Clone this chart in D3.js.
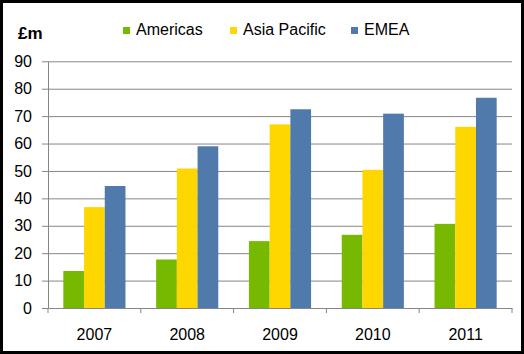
<!DOCTYPE html>
<html>
<head>
<meta charset="utf-8">
<style>
  body { margin: 0; background: #fff; }
  svg { display: block; font-family: "Liberation Sans", Arial, sans-serif; }
</style>
</head>
<body>
<svg id="chart" width="524" height="354"></svg>
<script src="https://d3js.org/d3.v7.min.js"></script>
<script>
  // data
  const years = ['2007', '2008', '2009', '2010', '2011']
  const regions = ['Americas', 'Asia Pacific', 'EMEA']
  const americas = [13.5, 17.7, 24.4, 26.7, 30.7]
  const asiaPacific = [36.8, 50.9, 67.0, 50.4, 66.1]
  const emea = [44.5, 59.0, 72.5, 70.9, 76.7]
  const yTicks = [0, 10, 20, 30, 40, 50, 60, 70, 80, 90]

  const colors = ['#77b900', '#ffd700', '#5079ac']
  const series = [americas, asiaPacific, emea]

  const rows = years.map((yr, i) => ({
    year: yr,
    vals: regions.map((r, j) => ({ key: r, value: series[j][i] }))
  }))

  const svg = d3.select('#chart')
  const W = 524, H = 354

  // frame
  svg.append('rect')
    .attr('x', 1.5).attr('y', 1.5)
    .attr('width', W - 3).attr('height', H - 3)
    .attr('fill', '#fff')
    .attr('stroke', '#000')
    .attr('stroke-width', 3)

  const m = { left: 48, right: 512, top: 61.3, bottom: 308 }

  const x0 = d3.scaleBand().domain(years).range([m.left, m.right]).padding(0)
  const x1 = d3.scaleBand().domain(regions).range([0, x0.bandwidth()])
    .paddingInner(0).paddingOuter(0.74)
  const y = d3.scaleLinear().domain([0, 90]).range([m.bottom, m.top])

  // y axis with gridlines
  const yAxis = d3.axisLeft(y).tickValues(yTicks)
    .tickSizeInner(-(m.right - m.left)).tickSizeOuter(0).tickPadding(16)
  const gy = svg.append('g').attr('transform', `translate(${m.left},0)`).call(yAxis)
  gy.select('.domain').attr('stroke', '#868686')
  gy.selectAll('.tick line').attr('x1', -6).attr('stroke', '#868686')
  gy.selectAll('.tick').filter(d => d === 0).select('line').attr('x2', 0)
  gy.selectAll('.tick text')
    .attr('font-size', 16).attr('fill', '#000')
    .attr('font-family', '"Liberation Sans", Arial, sans-serif')

  // bars
  const grp = svg.append('g')
    .selectAll('g')
    .data(rows)
    .join('g')
    .attr('transform', d => `translate(${x0(d.year)},0)`)

  grp.selectAll('rect')
    .data(d => d.vals)
    .join('rect')
    .attr('x', d => x1(d.key))
    .attr('width', x1.bandwidth())
    .attr('y', d => y(d.value))
    .attr('height', d => y(0) - y(d.value))
    .attr('fill', (d, i) => colors[i])

  // x axis
  const xAxis = d3.axisBottom(x0).tickSize(0).tickPadding(21)
  const gx = svg.append('g').attr('transform', `translate(0,${m.bottom})`).call(xAxis)
  gx.select('.domain').attr('stroke', '#868686')
  gx.selectAll('.tick text')
    .attr('font-size', 16).attr('fill', '#000')
    .attr('font-family', '"Liberation Sans", Arial, sans-serif')
  // category boundary ticks
  const bounds = years.map(d => x0(d)).concat([m.right])
  gx.selectAll('.bound')
    .data(bounds)
    .join('line')
    .attr('x1', d => d).attr('x2', d => d)
    .attr('y1', 0).attr('y2', 5)
    .attr('stroke', '#868686')

  // unit label
  svg.append('text')
    .attr('x', 18).attr('y', 39)
    .attr('font-size', 17).attr('font-weight', 'bold')
    .text('£m')

  // legend
  const legendX = [123, 230, 351]
  const lg = svg.append('g').selectAll('g')
    .data(regions)
    .join('g')
    .attr('transform', (d, i) => `translate(${legendX[i]},0)`)
  lg.append('rect')
    .attr('x', 0).attr('y', 27)
    .attr('width', 7).attr('height', 7)
    .attr('fill', (d, i) => colors[i])
  lg.append('text')
    .attr('x', 13).attr('y', 35)
    .attr('font-size', 16)
    .text(d => d)
</script>
</body>
</html>
